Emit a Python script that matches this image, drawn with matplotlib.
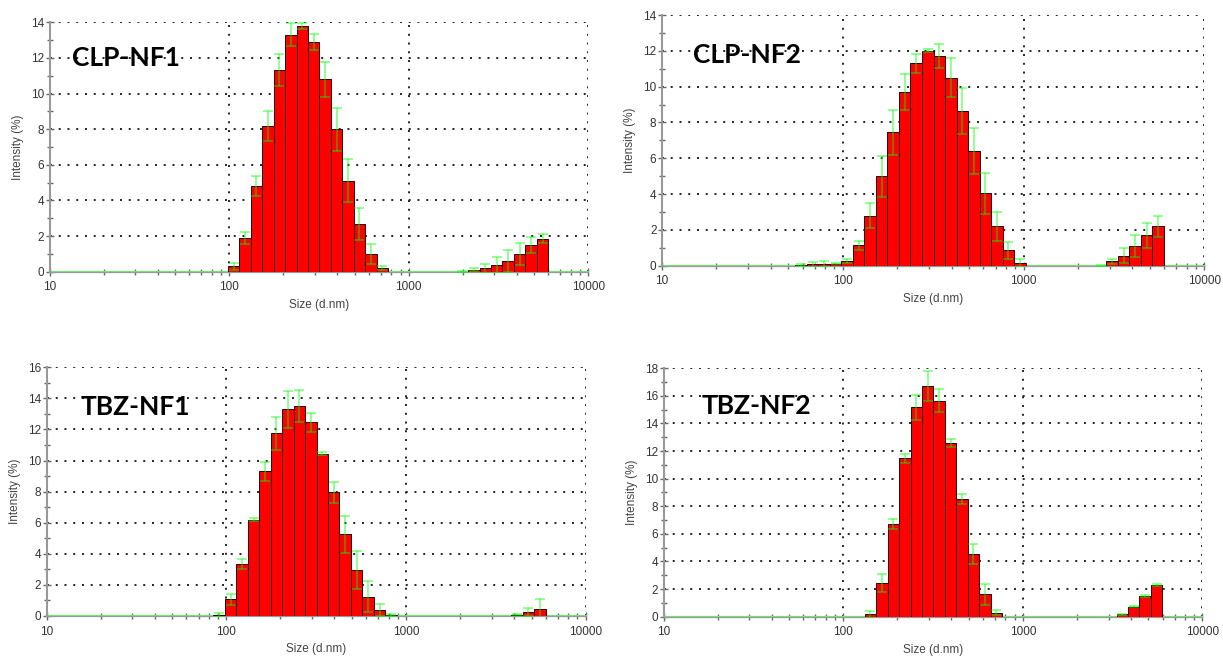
import matplotlib
matplotlib.use("Agg")
import matplotlib.pyplot as plt
import matplotlib.ticker as mticker
import numpy as np

# Zetasizer size classes (d.nm), bin centres
size_classes = [58.77, 68.06, 78.82, 91.28, 105.7, 122.4, 141.8, 164.2, 190.1, 220.2,
                255.0, 295.3, 342.0, 396.1, 458.7, 531.2, 615.1, 712.4, 825.0, 955.4,
                1106, 1281, 1484, 1718, 1990, 2305, 2669, 3091, 3580, 4145, 4801, 5560]

sample_names = ["CLP-NF1", "CLP-NF2", "TBZ-NF1", "TBZ-NF2"]

clp_nf1 = [0, 0, 0, 0, 0.3, 1.9, 4.8, 8.2, 11.3, 13.3,
           13.8, 12.9, 10.8, 8.0, 5.1, 2.7, 1.0, 0.2, 0, 0,
           0, 0, 0, 0, 0, 0.1, 0.2, 0.4, 0.6, 1.0, 1.5, 1.85]
clp_nf1_err = [0, 0, 0, 0, 0.2, 0.33, 0.55, 0.85, 0.9, 0.65,
               0.15, 0.45, 1.0, 1.2, 1.2, 0.9, 0.55, 0.12, 0, 0,
               0, 0, 0, 0, 0.05, 0.08, 0.25, 0.45, 0.6, 0.62, 0.45, 0.25]

clp_nf2 = [0.03, 0.08, 0.1, 0.12, 0.25, 1.15, 2.8, 5.0, 7.45, 9.7,
           11.3, 12.0, 11.7, 10.5, 8.65, 6.4, 4.05, 2.2, 0.85, 0.15,
           0, 0, 0, 0, 0, 0, 0, 0.25, 0.55, 1.1, 1.7, 2.2]
clp_nf2_err = [0.05, 0.15, 0.15, 0.05, 0.1, 0.25, 0.7, 1.15, 1.25, 1.0,
               0.53, 0.08, 0.67, 1.1, 1.3, 1.3, 1.15, 0.8, 0.5, 0.2,
               0, 0, 0, 0, 0, 0, 0.05, 0.15, 0.42, 0.6, 0.7, 0.6]

tbz_nf1 = [0, 0, 0, 0.05, 1.07, 3.35, 6.2, 9.3, 11.75, 13.3,
           13.5, 12.45, 10.45, 7.95, 5.25, 2.95, 1.25, 0.4, 0.08, 0,
           0, 0, 0, 0, 0, 0, 0, 0, 0, 0.08, 0.26, 0.47]
tbz_nf1_err = [0, 0, 0, 0.12, 0.35, 0.3, 0.1, 0.63, 1.05, 1.2,
               1.05, 0.6, 0.1, 0.7, 1.2, 1.2, 1.0, 0.4, 0.05, 0,
               0, 0, 0, 0, 0, 0, 0, 0, 0, 0.03, 0.28, 0.6]

tbz_nf2 = [0, 0, 0, 0, 0, 0, 0.17, 2.42, 6.74, 11.47,
           15.17, 16.7, 15.65, 12.58, 8.53, 4.54, 1.62, 0.29, 0, 0,
           0, 0, 0, 0, 0, 0, 0, 0, 0.17, 0.72, 1.5, 2.29]
tbz_nf2_err = [0, 0, 0, 0, 0, 0, 0.26, 0.64, 0.36, 0.32,
               0.9, 1.1, 0.85, 0.27, 0.35, 0.72, 0.75, 0.2, 0, 0,
               0, 0, 0, 0, 0, 0, 0, 0, 0.03, 0.05, 0.05, 0.05]

intensities = [clp_nf1, clp_nf2, tbz_nf1, tbz_nf2]
errors = [clp_nf1_err, clp_nf2_err, tbz_nf1_err, tbz_nf2_err]
y_max = [14, 14, 16, 18]

# axes rectangles and label positions (figure fractions)
axes_rects = [[0.0407, 0.5877, 0.4403, 0.3784],
              [0.5413, 0.5968, 0.4434, 0.3804],
              [0.0382, 0.0653, 0.4406, 0.3774],
              [0.5426, 0.0642, 0.4406, 0.3770]]
label_pos = [(0.0586, 0.9127), (0.5666, 0.9165), (0.0657, 0.3829), (0.5740, 0.3839)]

# bin edges from the geometric midpoints of the classes
centres = np.array(size_classes, dtype=float)
log_c = np.log10(centres)
half = np.mean(np.diff(log_c)) / 2
left = 10 ** (log_c - half)
right = 10 ** (log_c + half)

fig = plt.figure(figsize=(12.23, 6.59), dpi=100)

for i in range(4):
    ax = fig.add_axes(axes_rects[i])
    vals = np.array(intensities[i])
    errs = np.array(errors[i])

    # green baseline across the whole axis
    ax.plot([10, 10000], [0, 0], color='#7be07b', lw=1.6, zorder=2, clip_on=False)

    mask = vals > 0
    ax.bar(left[mask], vals[mask], width=(right - left)[mask], align='edge',
           color='#ff0000', edgecolor='#2a0000', linewidth=0.7, zorder=3)

    emask = errs > 0
    ax.errorbar(centres[emask], vals[emask], yerr=errs[emask], fmt='none',
                ecolor='#00ff00', alpha=0.5, elinewidth=1.2, capsize=3.6,
                capthick=1.2, zorder=4)

    ax.set_xscale('log')
    ax.set_xlim(10, 10000)
    ax.set_ylim(0, y_max[i])
    ax.xaxis.set_major_formatter(mticker.FuncFormatter(lambda v, p: '%d' % v))
    ax.xaxis.set_minor_formatter(mticker.NullFormatter())
    ax.yaxis.set_major_locator(mticker.MultipleLocator(2))
    ax.yaxis.set_minor_locator(mticker.MultipleLocator(1))

    ax.grid(True, which='major', color='#222222', linestyle=(0, (1, 3.5)), lw=1.4, zorder=1)
    for s in ['top', 'right']:
        ax.spines[s].set_visible(False)
    ax.spines['left'].set_color('#999999')
    ax.spines['left'].set_linewidth(1.5)
    ax.spines['bottom'].set_color('#999999')
    ax.tick_params(which='both', direction='inout', colors='#666666', labelcolor='#333333',
                   labelsize=8.5, width=1.0)
    ax.tick_params(which='major', length=6)
    ax.tick_params(which='minor', length=5)
    ax.tick_params(axis='x', pad=4)
    ax.tick_params(axis='y', pad=1)
    for lbl in ax.get_xticklabels() + ax.get_yticklabels():
        lbl.set_family('Liberation Sans')

    ax.set_xlabel('Size (d.nm)', fontsize=8.5, color='#444444', labelpad=4,
                  family='Liberation Sans')
    ax.set_ylabel('Intensity (%)', fontsize=8.5, color='#444444', labelpad=5,
                  family='Liberation Sans')

    fig.text(label_pos[i][0], label_pos[i][1], sample_names[i], fontsize=19,
             fontweight='bold', family='Lato', va='center', ha='left')

plt.savefig('out.png', dpi=100)
